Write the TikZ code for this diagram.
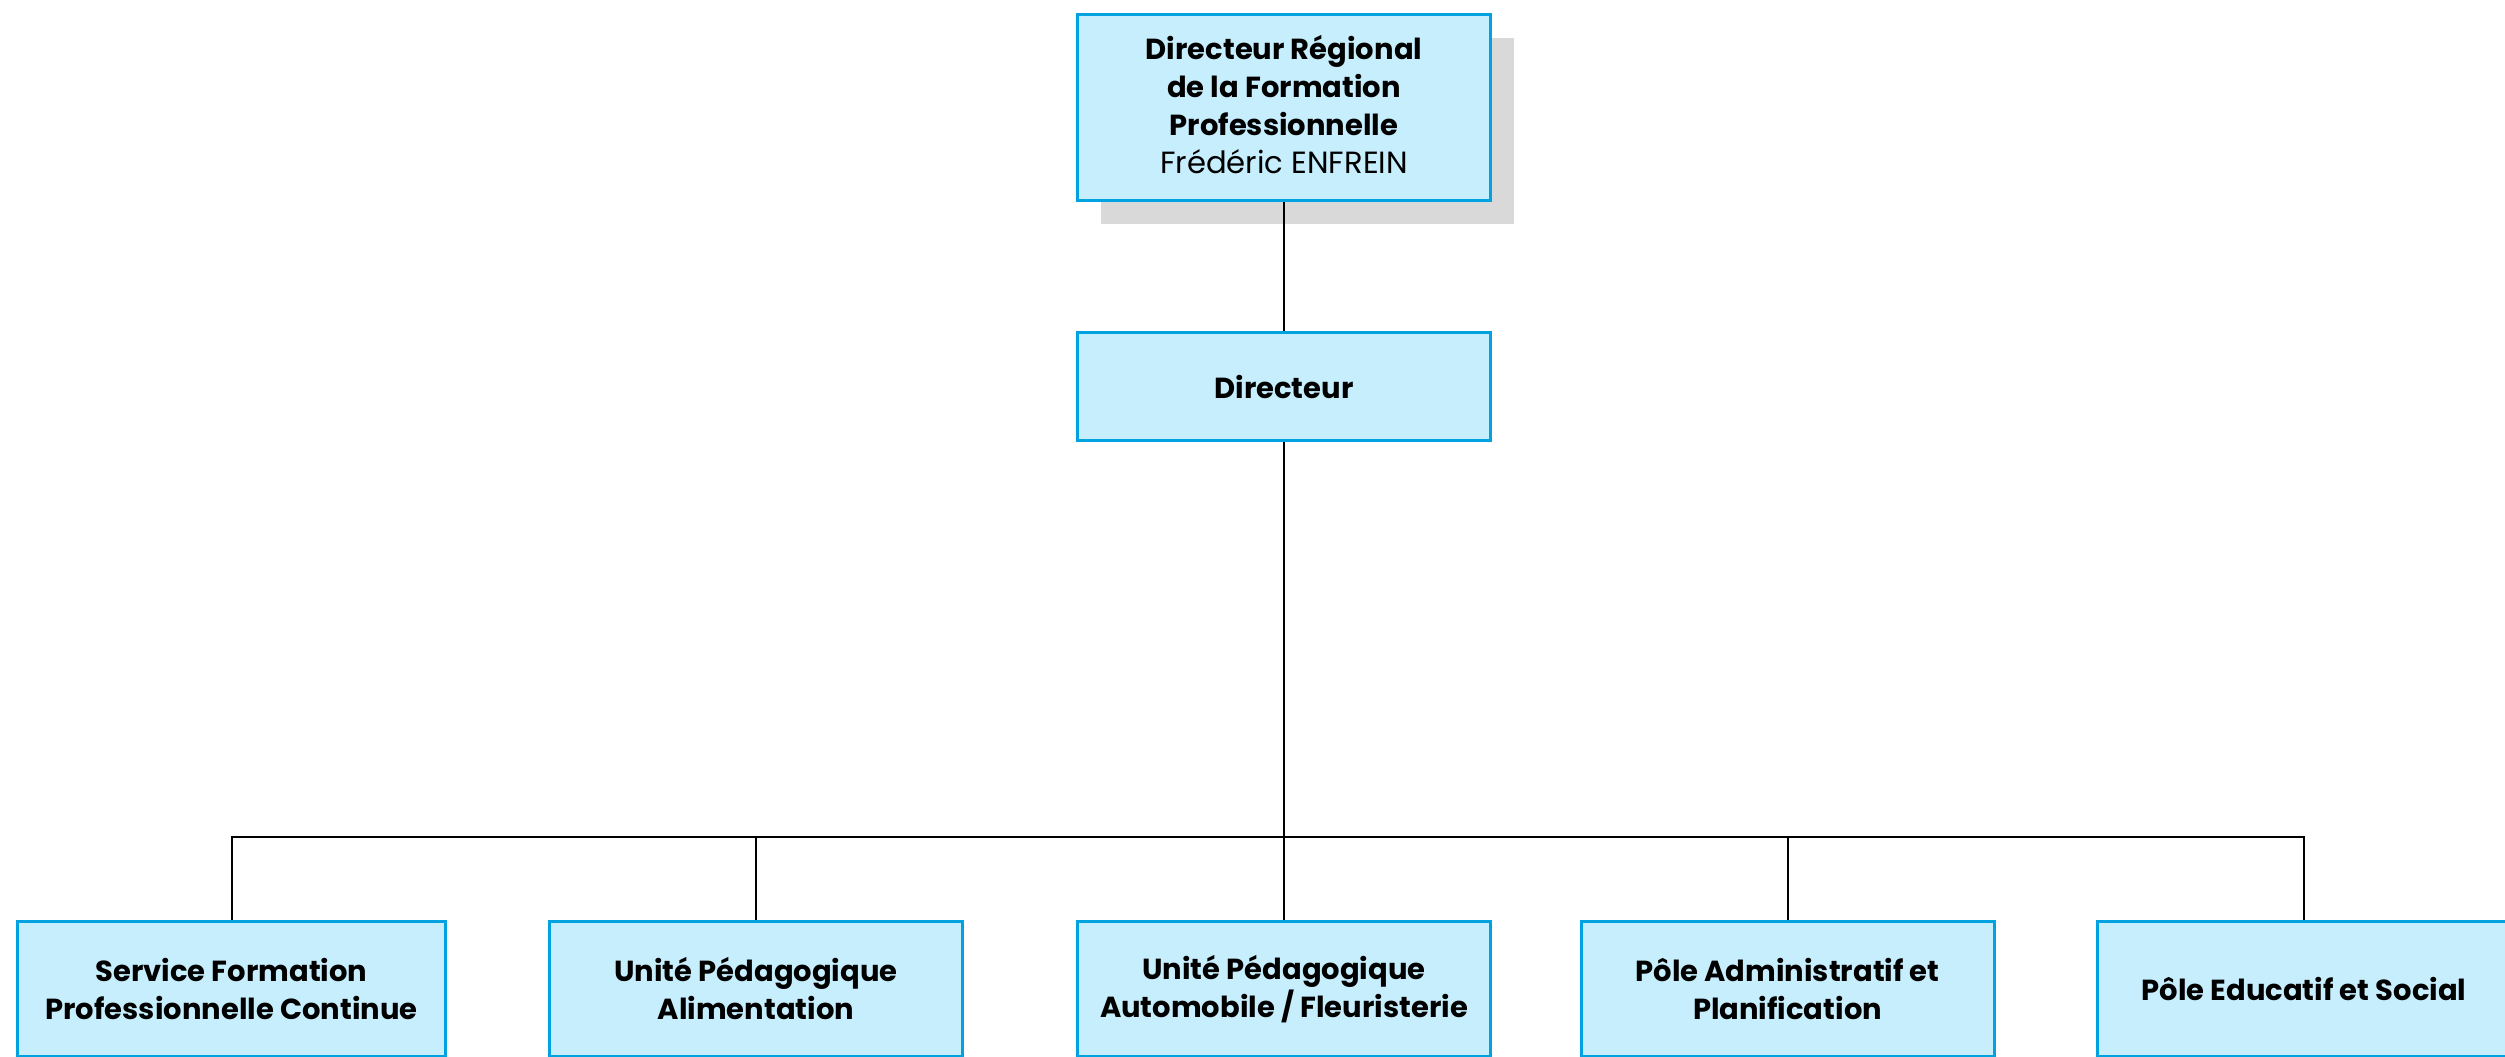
\documentclass[tikz,border=0pt]{standalone}
\usepackage{fontspec}
\setmainfont{Poppins}
\usetikzlibrary{shadows}
\definecolor{boxfill}{RGB}{198,238,253}
\definecolor{boxline}{RGB}{0,163,224}
\definecolor{shadowgray}{RGB}{217,217,217}
\begin{document}
\begin{tikzpicture}[x=0.3pt,y=-0.3pt,
  orgbox/.style={draw=boxline, line width=0.9pt, fill=boxfill, align=center,
    font=\bfseries\fontsize{8.7}{11.4}\selectfont, inner sep=0pt,
    minimum width=123.9pt},
  headbox/.style={orgbox, minimum height=55.8pt,
    drop shadow={shadow xshift=6.9pt, shadow yshift=-6.9pt, fill=shadowgray, opacity=1}},
  unitbox/.style={orgbox, minimum height=40.5pt},
  link/.style={draw=black, line width=0.6pt}]
\useasboundingbox (0,0) rectangle (2505,1056);
\clip (0,0) rectangle (2505,1056);
\node[headbox] (top) at (1284,107.5) {};
\node[align=center, font=\bfseries\fontsize{8.7}{11.4}\selectfont, inner sep=0pt] (toptext) at (1284,104.5) {Directeur Régional\\de la Formation\\Professionnelle\\{\mdseries\fontsize{9.2}{11.4}\selectfont Frédéric ENFREIN}};
\node[orgbox, minimum height=32.4pt] (dir) at (1284,386.5) {Directeur};
\node[unitbox, minimum width=128.4pt] (b1) at (231.5,989) {Service Formation\\Professionnelle Continue};
\node[unitbox] (b2) at (756,989) {Unité Pédagogique\\Alimentation};
\node[unitbox] (b3) at (1284,989) {Unité Pédagogique\\Automobile / Fleuristerie};
\node[unitbox] (b4) at (1787.5,989) {Pôle Administratif et\\Planification};
\node[unitbox] (b5) at (2304,989) {Pôle Educatif et Social};
\coordinate (bus) at (1284,837);
\draw[link] (top) -- (dir);
\draw[link] (dir.south) -- (bus);
\foreach \b in {b1,b2,b3,b4,b5} \draw[link] (bus) -| (\b.north);
\end{tikzpicture}
\end{document}
